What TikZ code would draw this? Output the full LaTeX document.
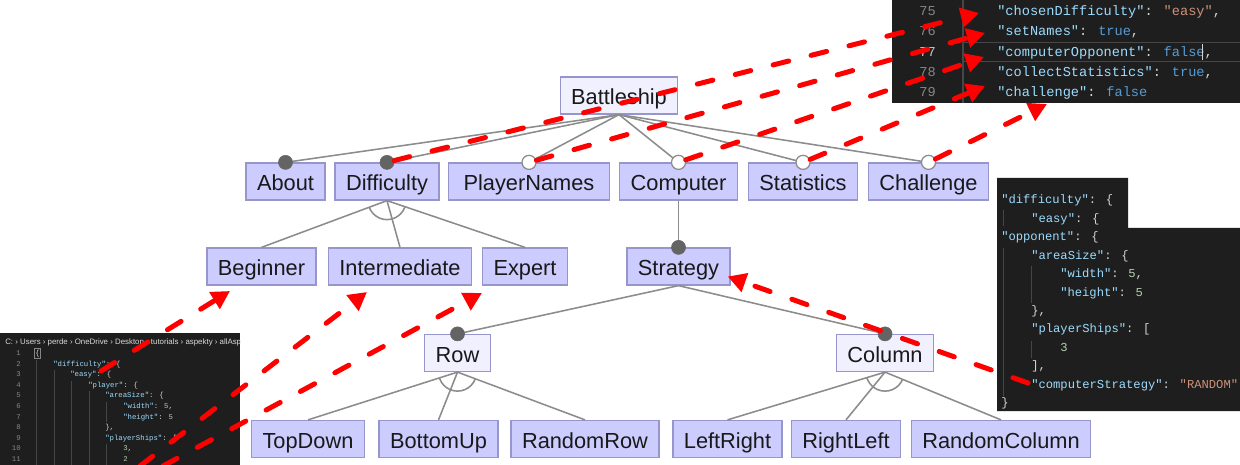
\documentclass[tikz,border=0pt]{standalone}
\usepackage{fontspec}
\setmainfont{Liberation Sans}
\newfontfamily\codefont{Liberation Mono}
\usetikzlibrary{arrows.meta, calc}
\definecolor{featfill}{RGB}{204, 204, 255}
\definecolor{rootfill}{RGB}{240, 240, 255}
\definecolor{featdraw}{RGB}{150, 150, 205}
\definecolor{edgegray}{RGB}{140, 140, 140}
\definecolor{dotgray}{RGB}{100, 100, 100}
\definecolor{linkred}{RGB}{255, 0, 0}
\definecolor{codebg}{RGB}{30, 30, 30}
\definecolor{codekey}{RGB}{156, 220, 254}
\definecolor{codestr}{RGB}{206, 145, 120}
\definecolor{codebool}{RGB}{86, 156, 214}
\definecolor{codenum}{RGB}{181, 206, 168}
\definecolor{codepunct}{RGB}{212, 212, 212}
\definecolor{codelnum}{RGB}{133, 133, 133}
\definecolor{codecur}{RGB}{198, 198, 198}
\definecolor{codeguide}{RGB}{70, 70, 70}
\newcommand{\jkey}[1]{\textcolor{codekey}{"#1"}}
\newcommand{\jstr}[1]{\textcolor{codestr}{"#1"}}
\newcommand{\jbool}[1]{\textcolor{codebool}{#1}}
\newcommand{\jnum}[1]{\textcolor{codenum}{#1}}
\tikzset{
  featbox/.style={rectangle, draw=featdraw, fill=featfill, line width=0.9pt, minimum height=26.3pt, text height=13.8pt, text depth=0.8pt, inner xsep=7.8pt, inner ysep=0pt, font=\fontsize{15.5}{18}\selectfont, text=black!90},
  rootbox/.style={featbox, fill=rootfill},
  treeedge/.style={draw=edgegray, line width=1.1pt},
  mandot/.style={circle, fill=dotgray, draw=dotgray, minimum size=10pt, inner sep=0pt},
  optdot/.style={circle, fill=white, draw=edgegray, line width=0.9pt, minimum size=10pt, inner sep=0pt},
  linkarrow/.style={-{Triangle[length=13pt, width=13.5pt]}, linkred, line width=3.56pt, line cap=round, dash pattern=on 11.4pt off 16.4pt}
}
\tikzset{
  panel/.style={fill=codebg, draw=none},
  guide/.style={draw=codeguide, line width=0.5pt},
  jsonbig/.style={anchor=base west, inner sep=0pt, font=\codefont\fontsize{9.7}{11}\selectfont, text=codepunct},
  jsonmid/.style={anchor=base west, inner sep=0pt, font=\codefont\fontsize{8.65}{10}\selectfont, text=codepunct},
  jsonsmall/.style={anchor=base west, inner sep=0pt, font=\codefont\fontsize{5.2}{6}\selectfont, text=codepunct},
  lnumbig/.style={anchor=base east, inner sep=0pt, font=\codefont\fontsize{9.7}{11}\selectfont},
  lnumsmall/.style={anchor=base east, inner sep=0pt, font=\codefont\fontsize{5.2}{6}\selectfont, text=codelnum}
}

\begin{document}
\begin{tikzpicture}[x=0.025cm, y=-0.025cm]
    \useasboundingbox (0,0) rectangle (1240,465);
    \fill[white] (0,0) rectangle (1240,465);

    % Feature tree
    \node[rootbox] (battleship) at (619,95.5) {Battleship};

    \node[featbox] (about) at (285.5,181.5) {About};
    \node[featbox] (difficulty) at (387,181.5) {Difficulty};
    \node[featbox, minimum width=114.5pt] (playernames) at (529,181.5) {PlayerNames};
    \node[featbox] (computer) at (678.5,181.5) {Computer};
    \node[featbox] (statistics) at (803,181.5) {Statistics};
    \node[featbox] (challenge) at (928.5,181.5) {Challenge};

    \node[featbox] (beginner) at (261.5,266.5) {Beginner};
    \node[featbox] (intermediate) at (400,266.5) {Intermediate};
    \node[featbox] (expert) at (525,266.5) {Expert};
    \node[featbox] (strategy) at (678.5,266.5) {Strategy};

    \node[rootbox] (row) at (457.5,353) {Row};
    \node[rootbox] (column) at (885,353) {Column};

    \node[featbox] (topdown) at (308,439) {TopDown};
    \node[featbox] (bottomup) at (438.5,439) {BottomUp};
    \node[featbox] (randomrow) at (585,439) {RandomRow};
    \node[featbox] (leftright) at (727.5,439) {LeftRight};
    \node[featbox] (rightleft) at (846,439) {RightLeft};
    \node[featbox] (randomcolumn) at (1001,439) {RandomColumn};

    % Edges
    \foreach \c in {about, difficulty, playernames, computer, statistics, challenge}
        \draw[treeedge] (battleship.south) -- (\c.north);
    \foreach \c in {beginner, intermediate, expert}
        \draw[treeedge] (difficulty.south) -- (\c.north);
    \draw[treeedge] (computer.south) -- (strategy.north);
    \draw[treeedge] (strategy.south) -- (row.north);
    \draw[treeedge] (strategy.south) -- (column.north);
    \foreach \c in {topdown, bottomup, randomrow}
        \draw[treeedge] (row.south) -- (\c.north);
    \foreach \c in {leftright, rightleft, randomcolumn}
        \draw[treeedge] (column.south) -- (\c.north);

    % Alternative groups
    \foreach \p/\a/\b in {difficulty/beginner/expert, row/topdown/randomrow, column/leftright/randomcolumn} {
        \begin{scope}
            \clip (\p.south) -- (\a.north) -- (\b.north) -- cycle;
            \draw[treeedge] (\p.south) circle[radius=13.5pt];
        \end{scope}
    }

    % Mandatory and optional markers
    \foreach \c in {about, difficulty, strategy, row, column}
        \node[mandot] (dot-\c) at (\c.north) {};
    \foreach \c in {playernames, computer, statistics, challenge}
        \node[optdot] (dot-\c) at (\c.north) {};

    % Code panel top right
    \fill[panel] (892,0) rectangle (1240,103);
    \draw[codeguide, line width=0.8pt] (963,0) -- (963,103);
    \draw[codeguide, line width=0.6pt] (963,42) -- (1240,42) (963,61) -- (1240,61);
    \foreach \n/\col [count=\i from 0] in {75/codelnum, 76/codelnum, 77/codecur, 78/codelnum, 79/codelnum}
        \node[lnumbig, text=\col] at (936,15.5+20.3*\i) {\n};
    \node[jsonbig] (l75) at (997,15.5) {\jkey{chosenDifficulty}: \jstr{easy},};
    \node[jsonbig] (l76) at (997,35.8) {\jkey{setNames}: \jbool{true},};
    \node[jsonbig] (l77) at (997,56.1) {\jkey{computerOpponent}: \jbool{false},};
    \node[jsonbig] (l78) at (997,76.4) {\jkey{collectStatistics}: \jbool{true},};
    \node[jsonbig] (l79) at (997,96.7) {\jkey{challenge}: \jbool{false}};
    \draw[codepunct, line width=0.6pt] (1202,44) -- (1202,60);

    % Code panel right
    \fill[panel] (997,178) -- (1128,178) -- (1128,228) -- (1240,228) -- (1240,411) -- (997,411) -- cycle;
    \draw[guide] (1003,210) -- (1003,226) (1003,248) -- (1003,396);
    \draw[guide] (1031,266) -- (1031,303) (1031,341) -- (1031,358);
    \node[jsonmid] at (1001,204) {\jkey{difficulty}: \{};
    \node[jsonmid] at (1031,222.4) {\jkey{easy}: \{};
    \node[jsonmid] at (1001,240.8) {\jkey{opponent}: \{};
    \node[jsonmid] at (1031,259.2) {\jkey{areaSize}: \{};
    \node[jsonmid] at (1060,277.6) {\jkey{width}: \jnum{5},};
    \node[jsonmid] at (1060,296) {\jkey{height}: \jnum{5}};
    \node[jsonmid] at (1031,314.4) {\},};
    \node[jsonmid] at (1031,332.8) {\jkey{playerShips}: [};
    \node[jsonmid] at (1060,351.2) {\jnum{3}};
    \node[jsonmid] at (1031,369.6) {],};
    \node[jsonmid] at (1031,388) {\jkey{computerStrategy}: \jstr{RANDOM}};
    \node[jsonmid] at (1001,406.4) {\}};

    % Code panel bottom left
    \begin{scope}
        \clip (0,333) rectangle (240,465);
        \fill[panel] (0,333) rectangle (240,465);
        \node[anchor=base west, inner sep=0pt, font=\fontsize{5.6}{6}\selectfont, text=codepunct!85] at (5,344.5)
            {C: › Users › perde › OneDrive › Desktop › tutorials › aspekty › allAsp};
        \draw[guide] (36,360) -- (36,465) (54,370) -- (54,465) (71,381) -- (71,465) (89,391) -- (89,465);
        \draw[guide] (106,402) -- (106,422) (106,444) -- (106,465);
        \draw[codelnum, line width=0.4pt] (34,348) rectangle (40,358);
        \foreach \n in {1,...,11}
            \node[lnumsmall] at (21,355.5+10.6*\n-10.6) {\n};
        \node[jsonsmall] at (35,355.5) {\{};
        \node[jsonsmall] at (53,366.1) {\jkey{difficulty}: \{};
        \node[jsonsmall] at (70,376.7) {\jkey{easy}: \{};
        \node[jsonsmall] at (88,387.3) {\jkey{player}: \{};
        \node[jsonsmall] at (105,397.9) {\jkey{areaSize}: \{};
        \node[jsonsmall] at (123,408.5) {\jkey{width}: \jnum{5},};
        \node[jsonsmall] at (123,419.1) {\jkey{height}: \jnum{5}};
        \node[jsonsmall] at (105,429.7) {\},};
        \node[jsonsmall] at (105,440.3) {\jkey{playerShips}: [};
        \node[jsonsmall] at (123,450.9) {\jnum{3},};
        \node[jsonsmall] at (123,461.5) {\jnum{2}};
    \end{scope}

    % Links from features to configuration keys
    \coordinate (key-difficulty) at (979,13);
    \coordinate (key-setnames) at (985,33);
    \coordinate (key-opponent) at (984,57);
    \coordinate (key-statistics) at (985,86);
    \coordinate (key-challenge) at (1047,104);
    \draw[linkarrow] (dot-difficulty) -- (key-difficulty);
    \draw[linkarrow] (dot-playernames) -- (key-setnames);
    \draw[linkarrow] (dot-computer) -- (key-opponent);
    \draw[linkarrow] (dot-statistics) -- (key-statistics);
    \draw[linkarrow] (dot-challenge) -- (key-challenge);

    \coordinate (json-difficulty) at (101,371);
    \coordinate (json-lowA) at (140,466);
    \coordinate (json-lowB) at (163,466);
    \coordinate (tip-beginner) at (230,291);
    \coordinate (tip-intermediate) at (367,292);
    \coordinate (tip-expert) at (482,293);
    \draw[linkarrow] (json-difficulty) -- (tip-beginner);
    \draw[linkarrow] (json-lowA) -- (tip-intermediate);
    \draw[linkarrow] (json-lowB) -- (tip-expert);

    \coordinate (json-strategy) at (1028,383);
    \draw[linkarrow] (json-strategy) -- ($(strategy.east)+(-3,10)$);
\end{tikzpicture}
\end{document}
